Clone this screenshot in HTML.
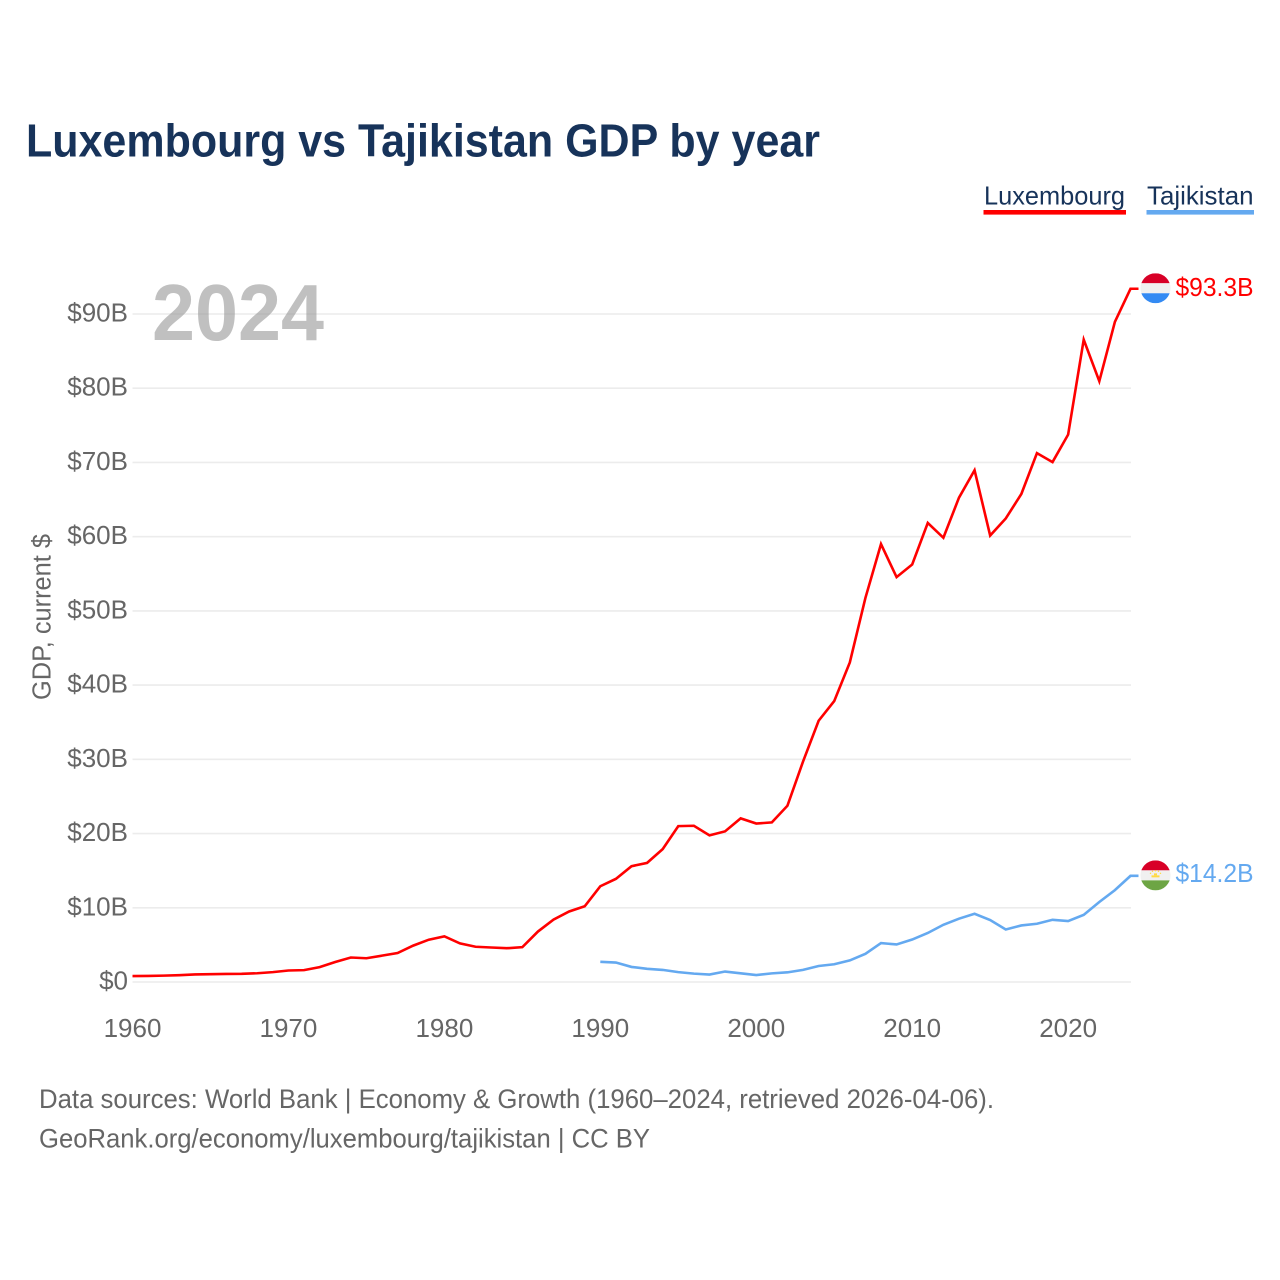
<!DOCTYPE html>
<html lang="en">
<head>
<meta charset="utf-8">
<title>Luxembourg vs Tajikistan GDP by year</title>
<style>
html,body{margin:0;padding:0;background:#fff;}
svg{display:block;font-family:"Liberation Sans",sans-serif;}
</style>
</head>
<body>
<svg id="chart" xmlns="http://www.w3.org/2000/svg" width="1280" height="1280" viewBox="0 0 1280 1280">
  <rect width="1280" height="1280" fill="#fff"/>
  <text x="26" y="156.5" font-size="46" font-weight="700" fill="#17335a" textLength="794" lengthAdjust="spacingAndGlyphs">Luxembourg vs Tajikistan GDP by year</text>

  <g>
    <text x="984" y="204.5" font-size="26" fill="#17335a" textLength="141" lengthAdjust="spacingAndGlyphs">Luxembourg</text>
    <rect x="983.5" y="210" width="142.5" height="4.6" fill="#ff0000"/>
  </g>
  <g>
    <text x="1147" y="204.5" font-size="26" fill="#17335a" textLength="106.5" lengthAdjust="spacingAndGlyphs">Tajikistan</text>
    <rect x="1146.5" y="210" width="107.5" height="4.6" fill="#64a9f0"/>
  </g>

  <g id="grid"></g>
  <text x="152" y="340" font-size="80" font-weight="700" fill="#999999" fill-opacity="0.62" textLength="172" lengthAdjust="spacingAndGlyphs">2024</text>
  <g id="yticks"></g>
  <g id="xticks"></g>
  <text transform="translate(50.5,700) rotate(-90)" x="0" y="0" font-size="25.5" fill="#666666" textLength="166" lengthAdjust="spacingAndGlyphs">GDP, current $</text>

  <path id="line-lux" fill="none" stroke="#ff0000" stroke-width="2.6" stroke-linejoin="miter"/>
  <path id="line-tjk" fill="none" stroke="#64a9f0" stroke-width="2.6" stroke-linejoin="miter"/>

  <defs>
    <clipPath id="flag-clip"><circle cx="0" cy="0" r="15"/></clipPath>
  </defs>
  <g id="flag-lux">
    <g clip-path="url(#flag-clip)">
      <rect x="-15" y="-15" width="30" height="10" fill="#d80027"/>
      <rect x="-15" y="-5" width="30" height="10" fill="#f0f0f0"/>
      <rect x="-15" y="5" width="30" height="10" fill="#338af3"/>
    </g>
  </g>
  <g id="flag-tjk">
    <g clip-path="url(#flag-clip)">
      <rect x="-15" y="-15" width="30" height="10" fill="#d80027"/>
      <rect x="-15" y="-5" width="30" height="10" fill="#f0f0f0"/>
      <rect x="-15" y="5" width="30" height="10" fill="#6da544"/>
      <rect x="-4" y="0" width="8" height="2" fill="#ffda44"/>
      <rect x="-1.5" y="-2" width="3" height="2" fill="#ffda44"/>
      <circle cx="-5" cy="-2" r=".7" fill="#ffda44"/>
      <circle cx="-3" cy="-4" r=".7" fill="#ffda44"/>
      <circle cx="0" cy="-4.6" r=".7" fill="#ffda44"/>
      <circle cx="3" cy="-4" r=".7" fill="#ffda44"/>
      <circle cx="5" cy="-2" r=".7" fill="#ffda44"/>
    </g>
  </g>
  <text id="value-lux" x="1175.5" font-size="26" fill="#ff0000" textLength="78" lengthAdjust="spacingAndGlyphs"></text>
  <text id="value-tjk" x="1175.5" font-size="26" fill="#64a9f0" textLength="78" lengthAdjust="spacingAndGlyphs"></text>

  <text x="39" y="1108" font-size="26.5" fill="#666666" textLength="955" lengthAdjust="spacingAndGlyphs">Data sources: World Bank | Economy &amp; Growth (1960–2024, retrieved 2026-04-06).</text>
  <text x="39" y="1147.5" font-size="26.5" fill="#666666" textLength="611" lengthAdjust="spacingAndGlyphs">GeoRank.org/economy/luxembourg/tajikistan | CC BY</text>
</svg>
<script>
const luxYears = [1960,1961,1962,1963,1964,1965,1966,1967,1968,1969,1970,1971,1972,1973,1974,1975,1976,1977,1978,1979,1980,1981,1982,1983,1984,1985,1986,1987,1988,1989,1990,1991,1992,1993,1994,1995,1996,1997,1998,1999,2000,2001,2002,2003,2004,2005,2006,2007,2008,2009,2010,2011,2012,2013,2014,2015,2016,2017,2018,2019,2020,2021,2022,2023,2024];
const luxValues = [0.8,0.82,0.86,0.92,1.02,1.05,1.08,1.1,1.18,1.33,1.55,1.6,2.0,2.7,3.3,3.2,3.55,3.9,4.9,5.7,6.15,5.2,4.75,4.65,4.55,4.7,6.8,8.4,9.5,10.2,12.9,13.9,15.6,16.05,17.9,21.0,21.05,19.75,20.3,22.05,21.35,21.5,23.75,29.7,35.2,37.85,43.05,51.75,59.0,54.55,56.25,61.85,59.85,65.25,68.95,60.15,62.45,65.75,71.25,70.05,73.75,86.55,80.95,88.95,93.4];
const tjkYears = [1990,1991,1992,1993,1994,1995,1996,1997,1998,1999,2000,2001,2002,2003,2004,2005,2006,2007,2008,2009,2010,2011,2012,2013,2014,2015,2016,2017,2018,2019,2020,2021,2022,2023,2024];
const tjkValues = [2.72,2.62,2.03,1.78,1.63,1.33,1.13,1.0,1.41,1.17,0.94,1.16,1.3,1.63,2.16,2.39,2.91,3.8,5.24,5.06,5.72,6.6,7.71,8.53,9.19,8.35,7.07,7.62,7.85,8.38,8.21,9.05,10.78,12.38,14.3];
const yTickValues = [0,10,20,30,40,50,60,70,80,90];
const yTickLabels = ["$0","$10B","$20B","$30B","$40B","$50B","$60B","$70B","$80B","$90B"];
const xTickValues = [1960,1970,1980,1990,2000,2010,2020];
const luxPrinted = "$93.3B";
const tjkPrinted = "$14.2B";

const SVGNS = "http://www.w3.org/2000/svg";
function xScale(year){ return 132.5 + (year - 1960) * (1130.5 - 132.5) / 64; }
function yScale(v){ return 982 - v * (982 - 314) / 90; }

function linePath(years, values){
  let d = "";
  for (let i = 0; i < years.length; i++) {
    d += (i ? "L" : "M") + xScale(years[i]).toFixed(2) + " " + yScale(values[i]).toFixed(2);
  }
  const lastY = yScale(values[values.length - 1]);
  d += "L" + (xScale(years[years.length - 1]) + 8).toFixed(2) + " " + lastY.toFixed(2);
  return d;
}

const grid = document.getElementById("grid");
const yticks = document.getElementById("yticks");
const xticks = document.getElementById("xticks");

yTickValues.forEach(function(v, i){
  const line = document.createElementNS(SVGNS, "line");
  
  
  line.setAttribute("x1", xScale(1960));
  line.setAttribute("x2", xScale(2024) + 0.5);
  line.setAttribute("y1", yScale(v));
  line.setAttribute("y2", yScale(v));
  line.setAttribute("stroke", "#ececec");
  line.setAttribute("stroke-width", "1.6");
  grid.appendChild(line);

  const t = document.createElementNS(SVGNS, "text");
  
  
  t.setAttribute("x", 128);
  t.setAttribute("y", yScale(v) + 7.5);
  t.setAttribute("text-anchor", "end");
  t.setAttribute("font-size", "26");
  t.setAttribute("fill", "#666666");
  t.textContent = yTickLabels[i];
  yticks.appendChild(t);
});

xTickValues.forEach(function(y){
  const t = document.createElementNS(SVGNS, "text");
  
  
  t.setAttribute("x", xScale(y));
  t.setAttribute("y", 1037);
  t.setAttribute("text-anchor", "middle");
  t.setAttribute("font-size", "26");
  t.setAttribute("fill", "#666666");
  t.textContent = String(y);
  xticks.appendChild(t);
});

document.getElementById("line-lux").setAttribute("d", linePath(luxYears, luxValues));
document.getElementById("line-tjk").setAttribute("d", linePath(tjkYears, tjkValues));

const luxEnd = yScale(luxValues[luxValues.length - 1]);
const tjkEnd = yScale(tjkValues[tjkValues.length - 1]);
document.getElementById("flag-lux").setAttribute("transform", "translate(1155.5," + (luxEnd - 0.5) + ")");
document.getElementById("flag-tjk").setAttribute("transform", "translate(1155.5," + (tjkEnd - 0.5) + ")");
const vl = document.getElementById("value-lux");
vl.setAttribute("y", luxEnd + 7);
vl.textContent = luxPrinted;
const vt = document.getElementById("value-tjk");
vt.setAttribute("y", tjkEnd + 6);
vt.textContent = tjkPrinted;
</script>
</body>
</html>
